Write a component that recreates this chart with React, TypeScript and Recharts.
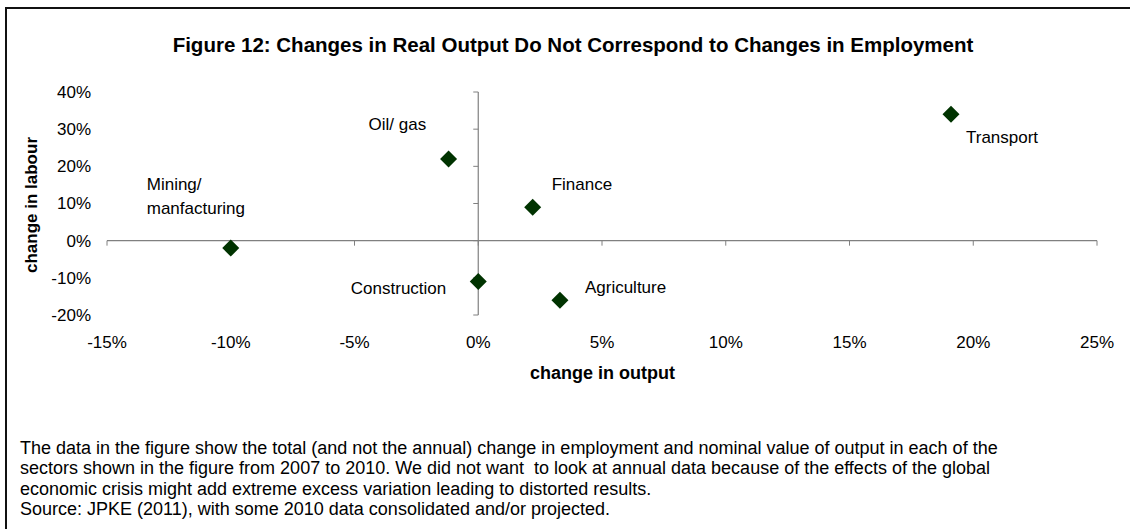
import React from 'react';
import { ScatterChart, Scatter, XAxis, YAxis, ReferenceLine, ReferenceDot } from 'recharts';

const sectors = ['Mining/\nmanfacturing', 'Oil/ gas', 'Construction', 'Finance', 'Agriculture', 'Transport'];
const outputChange = [-10, -1.2, 0, 2.2, 3.3, 19.1];
const labourChange = [-2, 22, -11, 9, -16, 34];
const xTicks = [-15, -10, -5, 0, 5, 10, 15, 20, 25];
const yTicks = [-20, -10, 0, 10, 20, 30, 40];
const titleText = 'Figure 12: Changes in Real Output Do Not Correspond to Changes in Employment';
const xTitle = 'change in output';
const yTitle = 'change in labour';
const noteLines = [
  'The data in the figure show the total (and not the annual) change in employment and nominal value of output in each of the',
  'sectors shown in the figure from 2007 to 2010. We did not want  to look at annual data because of the effects of the global',
  'economic crisis might add extreme excess variation leading to distorted results.',
  'Source: JPKE (2011), with some 2010 data consolidated and/or projected.',
];

const data = sectors.map((name, i) => ({ name, x: outputChange[i], y: labourChange[i] }));

const FONT = '"Liberation Sans", Arial, sans-serif';
const MARK = '#003300';
const AXIS = '#808080';

const labelPlacement: Record<string, { dx: number; dy: number; anchor: 'start' | 'end' }> = {
  'Mining/\nmanfacturing': { dx: -84, dy: -64, anchor: 'start' },
  'Oil/ gas': { dx: -80, dy: -35, anchor: 'start' },
  Construction: { dx: -32, dy: 6, anchor: 'end' },
  Finance: { dx: 19, dy: -23, anchor: 'start' },
  Agriculture: { dx: 25, dy: -13, anchor: 'start' },
  Transport: { dx: 15, dy: 23, anchor: 'start' },
};

const PlainText = ({ x, y, anchor, children }: any) => (
  <text x={x} y={y} textAnchor={anchor} dy="0.35em" fontSize={17} fontFamily={FONT} fill="#000">
    {children}
  </text>
);

const DiamondShape = (props: any) => {
  const { cx, cy, payload } = props;
  const h = 8.5;
  const p = labelPlacement[payload.name];
  const lines = String(payload.name).split('\n');
  return (
    <g>
      <polygon points={`${cx},${cy - h} ${cx + h},${cy} ${cx},${cy + h} ${cx - h},${cy}`} fill={MARK} />
      {lines.map((l, i) => (
        <PlainText key={i} x={cx + p.dx} y={cy + p.dy + i * 24} anchor={p.anchor}>
          {l}
        </PlainText>
      ))}
    </g>
  );
};

const XTick = (props: any) => {
  const { x, y, payload } = props;
  return (
    <PlainText x={x} y={y} anchor="middle">
      {`${payload.value}%`}
    </PlainText>
  );
};

const YTick = (props: any) => {
  const { x, y, payload } = props;
  return (
    <PlainText x={x} y={y} anchor="end">
      {`${payload.value}%`}
    </PlainText>
  );
};

const XTickMark = (props: any) => (
  <line x1={props.cx} y1={props.cy} x2={props.cx} y2={props.cy + 5} stroke={AXIS} strokeWidth={1} />
);
const YTickMark = (props: any) => (
  <line x1={props.cx - 5} y1={props.cy} x2={props.cx} y2={props.cy} stroke={AXIS} strokeWidth={1} />
);

export default function App() {
  return (
    <div
      style={{
        position: 'absolute',
        left: 0,
        top: 0,
        width: 1130,
        height: 529,
        overflow: 'hidden',
        background: '#fff',
        fontFamily: FONT,
        color: '#000',
      }}
    >
      <div style={{ position: 'absolute', left: 5, top: 7, width: 1125, height: 2, background: '#111' }} />
      <div style={{ position: 'absolute', left: 5, top: 7, width: 2, height: 522, background: '#111' }} />
      <div style={{ position: 'absolute', left: 0, top: 33, width: 1146, textAlign: 'center' }}>
        <span style={{ fontSize: 20.5, fontWeight: 'bold', lineHeight: '24px', whiteSpace: 'nowrap' }}>
          {titleText}
        </span>
      </div>
      <div style={{ position: 'absolute', left: 0, top: 362, width: 1205, textAlign: 'center' }}>
        <span style={{ fontSize: 18, fontWeight: 'bold', lineHeight: '22px', whiteSpace: 'nowrap' }}>
          {xTitle}
        </span>
      </div>
      <div
        style={{
          position: 'absolute',
          left: 32,
          top: 205,
          transform: 'translate(-50%, -50%) rotate(-90deg)',
          fontSize: 17,
          fontWeight: 'bold',
          whiteSpace: 'nowrap',
          lineHeight: '20px',
        }}
      >
        {yTitle}
      </div>
      <div style={{ position: 'absolute', left: 20, top: 438 }}>
        {noteLines.map((l, i) => (
          <div key={i} style={{ fontSize: 18, lineHeight: '20.4px', whiteSpace: 'pre' }}>
            {l}
          </div>
        ))}
      </div>
      <div style={{ position: 'absolute', left: 0, top: 0 }}>
        <ScatterChart
          width={1130}
          height={529}
          margin={{ top: 92, right: 33, bottom: 154, left: 47 }}
          accessibilityLayer={false}
          style={{ outline: 'none' }}
        >
          <XAxis
            type="number"
            dataKey="x"
            domain={[-15, 25]}
            ticks={xTicks}
            axisLine={false}
            tickLine={false}
            tickSize={0}
            tickMargin={0}
            height={60}
            interval={0}
            tick={(p: any) => <XTick {...p} y={p.y + 27} />}
          />
          <YAxis
            type="number"
            dataKey="y"
            domain={[-20, 40]}
            ticks={yTicks}
            axisLine={false}
            tickLine={false}
            tickSize={0}
            tickMargin={0}
            width={60}
            interval={0}
            tick={(p: any) => <YTick {...p} x={91} />}
          />
          <ReferenceLine y={0} stroke={AXIS} strokeWidth={1.2} />
          <ReferenceLine x={0} stroke={AXIS} strokeWidth={1.2} />
          {xTicks.map((t) => (
            <ReferenceDot key={`xt${t}`} x={t} y={0} shape={XTickMark} />
          ))}
          {yTicks.map((t) => (
            <ReferenceDot key={`yt${t}`} x={0} y={t} shape={YTickMark} />
          ))}
          <Scatter data={data} shape={DiamondShape} isAnimationActive={false} />
        </ScatterChart>
      </div>
    </div>
  );
}
